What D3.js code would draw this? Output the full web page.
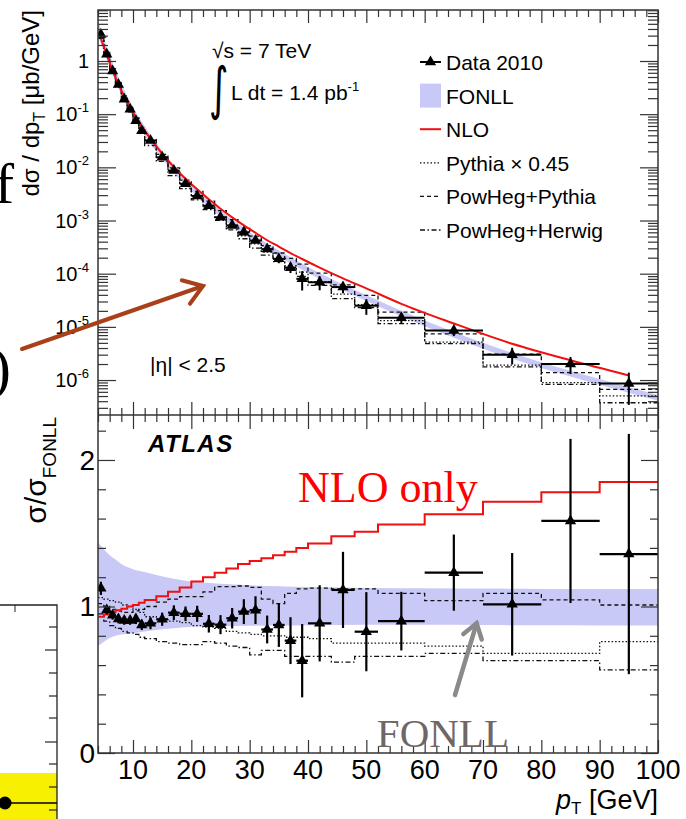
<!DOCTYPE html>
<meta charset="utf-8">
<script src="https://d3js.org/d3.v7.min.js"></script>
<style>
  body { margin: 0; background: #fff; }
  svg text { font-family: "Liberation Sans", Arial, Helvetica, sans-serif; }
  svg text.serif { font-family: "Liberation Serif", "Times New Roman", serif; }
</style>
<svg width="686" height="819"></svg>
<script>
// pT bins [GeV]
var binEdges = [4,5,6,7,8,9,10,11,12,14,16,18,20,22,24,26,28,30,32,34,36,38,40,44,48,52,60,70,80,90,100];

// data 2010, d(sigma)/dpT [ub/GeV] (upper panel)
var dataXsec = [3.16,1.34,0.65,0.36,0.19,0.124,0.075,0.049,0.032,0.0154,0.0087,0.0049,0.0029,0.0019,0.00115,
                8.1e-4,6.0e-4,4.2e-4,2.9e-4,1.9e-4,1.3e-4,8.0e-5,6.9e-5,5.6e-5,2.5e-5,1.48e-5,8.5e-6,3.0e-6,2.0e-6,8.6e-7];
// data / FONLL (lower panel) and its error
var dataRatio = [1.124,0.976,0.94,0.915,0.905,0.905,0.915,0.874,0.885,0.913,0.958,0.95,0.95,0.882,0.876,
                 0.92,0.965,0.975,0.843,0.874,0.767,0.63,0.885,1.113,0.828,0.90,1.231,1.015,1.584,1.358];
var dataRatioErr = [0.045,0.03,0.03,0.03,0.03,0.03,0.035,0.035,0.04,0.045,0.05,0.05,0.055,0.06,0.065,
                    0.07,0.085,0.095,0.095,0.15,0.16,0.25,0.26,0.26,0.27,0.2,0.26,0.35,0.56,0.82];

// FONLL central value at the bin centres [ub/GeV]
var fonllCentral = [2.82,1.38,0.69,0.38,0.219,0.135,0.087,0.0575,0.033,0.017,0.0093,0.0054,0.0033,0.0021,0.00135,
                    9.1e-4,6.3e-4,4.5e-4,3.2e-4,2.4e-4,1.78e-4,1.35e-4,9.1e-5,5.5e-5,3.5e-5,1.74e-5,7.1e-6,2.8e-6,1.32e-6,6.6e-7];
// FONLL uncertainty band, relative to central
var bandPt = [4,5,6,7,8,10,12,14,17,20,25,30,35,40,50,60,70,80,90,100];
var bandUp = [1.44,1.39,1.35,1.32,1.29,1.255,1.235,1.215,1.19,1.17,1.155,1.145,1.138,1.133,1.127,1.124,1.122,1.12,1.12,1.12];
var bandLo = [0.73,0.76,0.785,0.80,0.808,0.818,0.83,0.84,0.851,0.862,0.866,0.868,0.87,0.872,0.875,0.875,0.873,0.872,0.871,0.87];

// theory / FONLL per bin
var nloRatio = [0.93,0.945,0.96,0.975,0.985,1.0,1.01,1.025,1.045,1.07,1.10,1.13,1.17,1.20,1.23,
                1.26,1.29,1.31,1.33,1.35,1.374,1.40,1.43,1.48,1.51,1.56,1.63,1.715,1.78,1.85];
var pythiaRatio = [1.06,1.05,1.04,1.03,1.01,1.0,0.98,0.96,0.93,0.91,0.90,0.89,0.87,0.86,0.85,
                   0.83,0.82,0.81,0.80,0.80,0.79,0.79,0.78,0.75,0.75,0.75,0.73,0.68,0.68,0.76];
var powPyRatio = [1.02,1.0,0.98,0.97,0.96,0.96,0.97,0.98,1.0,1.03,1.05,1.067,1.067,1.10,1.135,
                  1.135,1.14,1.13,1.05,1.02,1.09,1.12,1.125,1.12,1.12,1.09,1.04,1.09,1.045,1.01];
var powHwRatio = [0.95,0.90,0.87,0.85,0.83,0.82,0.81,0.79,0.78,0.76,0.75,0.74,0.74,0.76,0.75,
                  0.73,0.72,0.67,0.70,0.70,0.66,0.66,0.66,0.62,0.66,0.66,0.68,0.63,0.63,0.567];

var legendNames = ["Data 2010", "FONLL", "NLO", "Pythia \u00d7 0.45", "PowHeg+Pythia", "PowHeg+Herwig"];
var xMajor = [10,20,30,40,50,60,70,80,90,100];
var xMinor = d3.range(4, 100, 2).filter(function(v) { return v % 10 != 0; });

var svg = d3.select("svg");
var x = d3.scaleLinear().domain([4, 100]).range([98, 658]);
var yTop = d3.scaleLog().domain([2.2e-7, 9.1]).range([415, 10]);
var yBot = d3.scaleLinear().domain([0, 2.307]).range([753, 415]);

var binCentres = binEdges.slice(0, -1).map(function(e, i) { return (e + binEdges[i + 1]) / 2; });
var logCentral = d3.scaleLinear().domain(binCentres).range(fonllCentral.map(Math.log10));
function central(p) { return Math.pow(10, logCentral(p)); }

var mc = [
    {ratio: pythiaRatio, dash: "1.5,2"},
    {ratio: powPyRatio, dash: "4,3"},
    {ratio: powHwRatio, dash: "5,2.5,1.5,2.5"}
];

var defs = svg.append("defs");
defs.append("clipPath").attr("id", "clipTop").append("rect")
    .attr("x", 98).attr("y", 10).attr("width", 560).attr("height", 405);
defs.append("clipPath").attr("id", "clipBot").append("rect")
    .attr("x", 98).attr("y", 415).attr("width", 560).attr("height", 338);

function steps(vals, yScale) {
    var pts = [];
    vals.forEach(function(v, i) { pts.push([binEdges[i], v], [binEdges[i + 1], v]); });
    return d3.line().x(function(d) { return x(d[0]); }).y(function(d) { return yScale(d[1]); })(pts);
}

// ---------- upper panel ----------
var gTop = svg.append("g").attr("clip-path", "url(#clipTop)");

gTop.append("path")
    .datum(bandPt)
    .attr("fill", "#c9c9f7")
    .attr("d", d3.area().curve(d3.curveMonotoneX)
        .x(function(p) { return x(p); })
        .y0(function(p, i) { return yTop(central(p) * bandLo[i]); })
        .y1(function(p, i) { return yTop(central(p) * bandUp[i]); }));

mc.forEach(function(m) {
    gTop.append("path")
        .attr("d", steps(m.ratio.map(function(r, i) { return r * fonllCentral[i]; }), yTop))
        .attr("fill", "none").attr("stroke", "#111").attr("stroke-width", 1.3)
        .attr("stroke-dasharray", m.dash);
});

gTop.append("path")
    .datum(binCentres)
    .attr("fill", "none").attr("stroke", "#f01010").attr("stroke-width", 2)
    .attr("d", d3.line().curve(d3.curveMonotoneX)
        .x(function(p) { return x(p); })
        .y(function(p, i) { return yTop(nloRatio[i] * fonllCentral[i]); }));

var dTop = gTop.append("g").selectAll("g").data(dataXsec).join("g");
dTop.append("line")
    .attr("x1", function(d, i) { return x(binEdges[i]); })
    .attr("x2", function(d, i) { return x(binEdges[i + 1]); })
    .attr("y1", function(d) { return yTop(d); }).attr("y2", function(d) { return yTop(d); })
    .attr("stroke", "#000").attr("stroke-width", 2);
dTop.append("line")
    .attr("x1", function(d, i) { return x(binCentres[i]); })
    .attr("x2", function(d, i) { return x(binCentres[i]); })
    .attr("y1", function(d, i) { return yTop(d * (1 + dataRatioErr[i] / dataRatio[i])); })
    .attr("y2", function(d, i) { return yTop(d * Math.max(0.05, 1 - dataRatioErr[i] / dataRatio[i])); })
    .attr("stroke", "#000").attr("stroke-width", 2);
dTop.append("path")
    .attr("d", d3.symbol(d3.symbolTriangle).size(55))
    .attr("transform", function(d, i) { return "translate(" + x(binCentres[i]) + "," + yTop(d) + ")"; })
    .attr("fill", "#000");

// ---------- lower panel ----------
var gBot = svg.append("g").attr("clip-path", "url(#clipBot)");

gBot.append("path")
    .datum(bandPt)
    .attr("fill", "#c9c9f7")
    .attr("d", d3.area().curve(d3.curveMonotoneX)
        .x(function(p) { return x(p); })
        .y0(function(p, i) { return yBot(bandLo[i]); })
        .y1(function(p, i) { return yBot(bandUp[i]); }));

mc.forEach(function(m) {
    gBot.append("path")
        .attr("d", steps(m.ratio, yBot))
        .attr("fill", "none").attr("stroke", "#111").attr("stroke-width", 1.3)
        .attr("stroke-dasharray", m.dash);
});

gBot.append("path")
    .attr("d", steps(nloRatio, yBot))
    .attr("fill", "none").attr("stroke", "#f01010").attr("stroke-width", 2);

var dBot = gBot.append("g").selectAll("g").data(dataRatio).join("g");
dBot.append("line")
    .attr("x1", function(d, i) { return x(binEdges[i]); })
    .attr("x2", function(d, i) { return x(binEdges[i + 1]); })
    .attr("y1", function(d) { return yBot(d); }).attr("y2", function(d) { return yBot(d); })
    .attr("stroke", "#000").attr("stroke-width", 2.2);
dBot.append("line")
    .attr("x1", function(d, i) { return x(binCentres[i]); })
    .attr("x2", function(d, i) { return x(binCentres[i]); })
    .attr("y1", function(d, i) { return yBot(d + dataRatioErr[i]); })
    .attr("y2", function(d, i) { return yBot(d - dataRatioErr[i]); })
    .attr("stroke", "#000").attr("stroke-width", 2.2);
dBot.append("path")
    .attr("d", d3.symbol(d3.symbolTriangle).size(55))
    .attr("transform", function(d, i) { return "translate(" + x(binCentres[i]) + "," + yBot(d) + ")"; })
    .attr("fill", "#000");

// ---------- frames and axes ----------
svg.append("rect").attr("x", 98).attr("y", 10).attr("width", 560).attr("height", 743)
    .attr("fill", "none").attr("stroke", "#333").attr("stroke-width", 1.5);
svg.append("line").attr("x1", 98).attr("x2", 658).attr("y1", 415).attr("y2", 415)
    .attr("stroke", "#333").attr("stroke-width", 1.5);

function axisG(gen, tx, ty) {
    var g = svg.append("g").attr("transform", "translate(" + tx + "," + ty + ")").call(gen);
    g.select(".domain").remove();
    g.selectAll("text").remove();
    g.selectAll("line").attr("stroke", "#333").attr("stroke-width", 1.2);
    return g;
}

var logMajor = [1e-6, 1e-5, 1e-4, 1e-3, 1e-2, 1e-1, 1];
var logMinor = [];
d3.range(-7, 1).forEach(function(e) {
    d3.range(2, 10).forEach(function(m) {
        var v = m * Math.pow(10, e);
        if (v > 2.2e-7 && v < 9.1) logMinor.push(v);
    });
});
var linMajor = [0, 1, 2];
var linMinor = d3.range(0.2, 2.3, 0.2).filter(function(v) { return Math.abs(v - 1) > 0.01 && Math.abs(v - 2) > 0.01; });

// upper y
axisG(d3.axisRight(yTop).tickValues(logMajor).tickSize(18), 98, 0);
axisG(d3.axisRight(yTop).tickValues(logMinor).tickSize(10), 98, 0);
axisG(d3.axisLeft(yTop).tickValues(logMajor).tickSize(18), 658, 0);
axisG(d3.axisLeft(yTop).tickValues(logMinor).tickSize(10), 658, 0);
// lower y
axisG(d3.axisRight(yBot).tickValues(linMajor).tickSize(17), 98, 0);
axisG(d3.axisRight(yBot).tickValues(linMinor).tickSize(8), 98, 0);
axisG(d3.axisLeft(yBot).tickValues(linMajor).tickSize(17), 658, 0);
axisG(d3.axisLeft(yBot).tickValues(linMinor).tickSize(8), 658, 0);
// x axes: top, middle (both ways), bottom
axisG(d3.axisBottom(x).tickValues(xMajor).tickSize(13), 0, 10);
axisG(d3.axisBottom(x).tickValues(xMinor).tickSize(7), 0, 10);
axisG(d3.axisTop(x).tickValues(xMajor).tickSize(13), 0, 415);
axisG(d3.axisTop(x).tickValues(xMinor).tickSize(7), 0, 415);
axisG(d3.axisBottom(x).tickValues(xMajor).tickSize(14), 0, 415);
axisG(d3.axisBottom(x).tickValues(xMinor).tickSize(7), 0, 415);
axisG(d3.axisTop(x).tickValues(xMajor).tickSize(13), 0, 753);
axisG(d3.axisTop(x).tickValues(xMinor).tickSize(7), 0, 753);

// tick labels
svg.append("g").selectAll("text").data(logMajor).join("text")
    .attr("x", 89).attr("y", function(d) { return yTop(d) + 7; })
    .attr("text-anchor", "end").attr("font-size", 20).attr("fill", "#000")
    .each(function(d) {
        var k = Math.round(Math.log10(d)), t = d3.select(this);
        if (k === 0) { t.text("1"); return; }
        t.append("tspan").text("10");
        t.append("tspan").attr("dy", -9).attr("font-size", 13).text(k);
    });
svg.append("g").selectAll("text").data(linMajor).join("text")
    .attr("x", 95).attr("y", function(d) { return yBot(d) + 10; })
    .attr("text-anchor", "end").attr("font-size", 28).attr("fill", "#000")
    .text(function(d) { return d; });
svg.append("g").selectAll("text").data(xMajor).join("text")
    .attr("x", function(d) { return x(d); }).attr("y", 779)
    .attr("text-anchor", "middle").attr("font-size", 27).attr("fill", "#000")
    .text(function(d) { return d; });

// axis titles
var xt = svg.append("text").attr("x", 658).attr("y", 809).attr("text-anchor", "end")
    .attr("font-size", 27).attr("fill", "#000");
xt.append("tspan").attr("font-style", "italic").text("p");
xt.append("tspan").attr("font-size", 17).attr("dy", 5).text("T");
xt.append("tspan").attr("dy", -5).text(" [GeV]");

var yt = svg.append("text").attr("transform", "translate(39,10) rotate(-90)")
    .attr("text-anchor", "end").attr("font-size", 24).attr("fill", "#000");
yt.append("tspan").text("d\u03c3 / dp");
yt.append("tspan").attr("font-size", 16).attr("dy", 6).text("T");
yt.append("tspan").attr("dy", -6).text(" [\u03bcb/GeV]");

var yr = svg.append("text").attr("transform", "translate(46,417) rotate(-90)")
    .attr("text-anchor", "end").attr("font-size", 30).attr("fill", "#000");
yr.append("tspan").text("\u03c3/\u03c3");
yr.append("tspan").attr("font-size", 19).attr("dy", 10).text("FONLL");

// labels inside the plot
svg.append("text").attr("x", 212).attr("y", 58).attr("font-size", 21).attr("fill", "#000").text("\u221as = 7 TeV");
svg.append("text").attr("transform", "translate(209,108) scale(0.85,1.3)").attr("font-size", 44).attr("fill", "#000")
    .style("font-family", "'DejaVu Sans', sans-serif").text("\u222b");
var lum = svg.append("text").attr("x", 231).attr("y", 100).attr("font-size", 21).attr("fill", "#000");
lum.append("tspan").text("L dt = 1.4 pb");
lum.append("tspan").attr("dy", -9).attr("font-size", 13).text("-1");
svg.append("text").attr("x", 150).attr("y", 372).attr("font-size", 21).attr("fill", "#000").text("|\u03b7| < 2.5");
svg.append("text").attr("x", 148).attr("y", 452).attr("font-size", 24).attr("font-weight", "bold")
    .attr("font-style", "italic").attr("letter-spacing", 1.5).attr("fill", "#000").text("ATLAS");

// legend
var legY = d3.scaleLinear().domain([0, 5]).range([62, 230]);
var leg = svg.append("g");
leg.selectAll("text").data(legendNames).join("text")
    .attr("x", 446).attr("y", function(d, i) { return legY(i) + 8; })
    .attr("font-size", 21).attr("fill", "#000").text(function(d) { return d; });
leg.append("line").attr("x1", 420).attr("x2", 441).attr("y1", legY(0)).attr("y2", legY(0))
    .attr("stroke", "#000").attr("stroke-width", 2);
leg.append("path").attr("d", d3.symbol(d3.symbolTriangle).size(55))
    .attr("transform", "translate(430.5," + legY(0) + ")");
leg.append("rect").attr("x", 420).attr("y", legY(1) - 12).attr("width", 21).attr("height", 24).attr("fill", "#c9c9f7");
leg.append("line").attr("x1", 420).attr("x2", 441).attr("y1", legY(2)).attr("y2", legY(2))
    .attr("stroke", "#f01010").attr("stroke-width", 2);
mc.forEach(function(m, i) {
    leg.append("line").attr("x1", 420).attr("x2", 441).attr("y1", legY(3 + i)).attr("y2", legY(3 + i))
        .attr("stroke", "#111").attr("stroke-width", 1.3).attr("stroke-dasharray", m.dash);
});

// ---------- slide overlays ----------
svg.append("text").attr("class", "serif").attr("x", x(38.3)).attr("y", yBot(1.71))
    .attr("font-size", 44).attr("fill", "#f00").text("NLO only");
svg.append("text").attr("class", "serif").attr("x", x(51.8)).attr("y", yBot(0.04))
    .attr("font-size", 41).attr("fill", "#6f6666").text("FONLL");

function arrow(x1, y1, x2, y2, len, color, w) {
    var g = svg.append("g").attr("stroke", color).attr("stroke-width", w)
        .attr("stroke-linecap", "round").attr("fill", "none");
    var a = Math.atan2(y2 - y1, x2 - x1);
    g.append("line").attr("x1", x1).attr("y1", y1).attr("x2", x2).attr("y2", y2);
    g.append("path").attr("d", "M" + (x2 - len * Math.cos(a - 0.6)) + "," + (y2 - len * Math.sin(a - 0.6)) +
        "L" + x2 + "," + y2 + "L" + (x2 - len * Math.cos(a + 0.6)) + "," + (y2 - len * Math.sin(a + 0.6)));
}
arrow(x(65.2), yBot(0.396), x(68.9), yBot(0.885), 17, "#8a8a8a", 4.5);
arrow(22, 349, 203, 286, 22, "#a8401a", 4);

// text of the slide, cut by the left edge as in the picture
svg.append("text").attr("class", "serif").attr("x", 14).attr("y", 203)
    .attr("text-anchor", "end").attr("font-size", 58).attr("fill", "#000").text("f");
svg.append("text").attr("class", "serif").attr("x", 11).attr("y", 388)
    .attr("text-anchor", "end").attr("font-size", 60).attr("fill", "#000").text(")");

// piece of another plot at the bottom left
var side = svg.append("g");
side.append("rect").attr("x", 0).attr("y", 773).attr("width", 57).attr("height", 46).attr("fill", "#f7f000");
side.append("path").attr("d", "M0,605H57V819").attr("fill", "none").attr("stroke", "#222").attr("stroke-width", 1.3);
side.append("line").attr("x1", 15).attr("x2", 15).attr("y1", 605).attr("y2", 612).attr("stroke", "#222");
side.selectAll(".tk").data([627, 650, 673, 696, 718, 742, 764, 787, 810]).join("line")
    .attr("x1", function(d, i) { return i % 4 == 1 ? 45 : 49; }).attr("x2", 57)
    .attr("y1", function(d) { return d; }).attr("y2", function(d) { return d; })
    .attr("stroke", "#222").attr("stroke-width", 1.2);
side.append("line").attr("x1", 0).attr("x2", 57).attr("y1", 803).attr("y2", 803).attr("stroke", "#000").attr("stroke-width", 1.5);
side.append("circle").attr("cx", 5).attr("cy", 803).attr("r", 6.5).attr("fill", "#000");
</script>
